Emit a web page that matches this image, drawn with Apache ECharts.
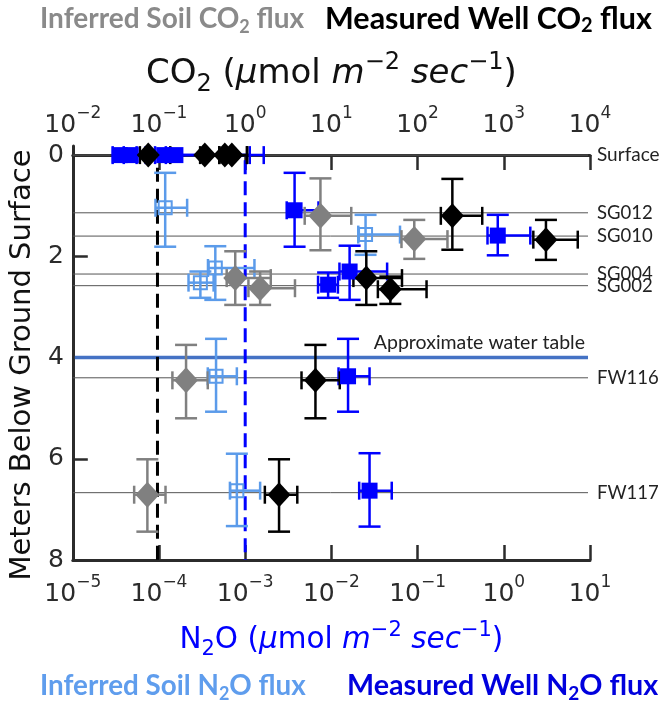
<!DOCTYPE html>
<html><head><meta charset="utf-8">
<script src="https://cdn.jsdelivr.net/npm/echarts@6/dist/echarts.min.js"></script>
<style>html,body{margin:0;padding:0;background:#fff}#c{width:661px;height:702px}</style>
</head><body><div id="c"></div>
<script>
// ---------- axis ticks ----------
const co2Range = [1e-2, 1e4];
const n2oRange = [1e-5, 1e1];
const depthRange = [-0.18, 8];
const depthTicks = [0, 2, 4, 6, 8];

// ---------- reference depths ----------
const refNames = ['Surface', 'SG012', 'SG010', 'SG004', 'SG002', 'FW116', 'FW117'];
const refDepths = [0, 1.14, 1.6, 2.35, 2.58, 4.4, 6.67];
const waterTableDepth = 4.0;
const soilDetectLimitN2O = 9.6e-5;   // black dashed
const wellDetectLimitN2O = 1e-3;     // blue dashed

// ---------- Inferred Soil CO2 flux (grey diamonds, top axis) ----------
const soilCO2Flux     = [7.46, 91.5, 0.766, 1.49, 0.206, 0.0733];
const soilCO2Depth    = [1.2, 1.66, 2.43, 2.63, 4.45, 6.71];
const soilCO2FluxLow  = [4.9, 65, 0.61, 1.09, 0.143, 0.0515];
const soilCO2FluxHigh = [17, 222, 1.98, 3.78, 0.368, 0.119];
const soilCO2DepthLow = [0.46, 1.28, 1.9, 2.3, 3.75, 6.01];
const soilCO2DepthHigh= [1.88, 2.05, 2.96, 2.96, 5.2, 7.44];

// ---------- Measured Well CO2 flux (black diamonds, top axis) ----------
const wellCO2Flux     = [0.075, 0.34, 0.58, 0.70, 253, 3083, 25.4, 48.3, 6.53, 2.47];
const wellCO2Depth    = [0, 0, 0, 0, 1.2, 1.67, 2.43, 2.65, 4.45, 6.71];
const wellCO2FluxLow  = [0.06, 0.3, 0.5, 0.6, 186, 2200, 18, 34.6, 4.5, 1.69];
const wellCO2FluxHigh = [0.135, 0.5, 1.05, 1.05, 562, 7210, 65.9, 127, 12.5, 4.02];
const wellCO2DepthLow = [0, 0, 0, 0, 0.47, 1.28, 1.9, 2.4, 3.75, 6.01];
const wellCO2DepthHigh= [0, 0, 0, 0, 1.87, 2.07, 2.96, 2.94, 5.2, 7.44];

// ---------- Inferred Soil N2O flux (light blue open squares, bottom axis) ----------
const soilN2OFlux     = [1.18e-4, 0.0249, 4.5e-4, 3.02e-4, 4.59e-4, 8.0e-4];
const soilN2ODepth    = [1.04, 1.57, 2.23, 2.52, 4.37, 6.63];
const soilN2OFluxLow  = [9.1e-5, 0.0205, 3.7e-4, 2.2e-4, 3.68e-4, 6.65e-4];
const soilN2OFluxHigh = [2.12e-4, 0.0625, 1.28e-3, 4.3e-4, 8.0e-4, 1.49e-3];
const soilN2ODepthLow = [0.35, 1.18, 1.8, 2.3, 3.63, 5.9];
const soilN2ODepthHigh= [1.81, 1.97, 2.86, 2.82, 5.07, 7.33];

// ---------- Measured Well N2O flux (blue squares, bottom axis) ----------
const wellN2OFlux     = [3.5e-5, 4.7e-5, 1.15e-4, 1.55e-4, 3.74e-3, 0.851, 0.01626, 9.16e-3, 0.0156, 0.0277];
const wellN2ODepth    = [0, 0, 0, 0, 1.09, 1.59, 2.30, 2.56, 4.37, 6.63];
const wellN2OFluxLow  = [2.9e-5, 3.9e-5, 9e-5, 1.2e-4, 3.03e-3, 0.647, 0.0124, 7.0e-3, 0.0121, 0.021];
const wellN2OFluxHigh = [5.5e-5, 7e-5, 1.13e-3, 1.64e-3, 7.08e-3, 2.03, 0.0443, 0.0119, 0.0277, 0.0501];
const wellN2ODepthLow = [0, 0, 0, 0, 0.35, 1.18, 1.79, 2.32, 3.63, 5.89];
const wellN2ODepthHigh= [0, 0, 0, 0, 1.81, 1.98, 2.86, 2.82, 5.07, 7.34];

// ---------- styles ----------
const AX = 'DejaVu Sans';
const CAL = 'Lato';
const GREY = '#808080', BLACK = '#000000', LBLUE = '#5B9BEA', BLUE = '#0000FF';
const AXCOL = '#2b2b2b';

function rows(f, d, fl, fh, dl, dh) {
  return f.map((v, i) => [v, d[i], fl[i], fh[i], dl[i], dh[i]]);
}

function powLabel(v) {
  const e = Math.round(Math.log10(v));
  return '{b|10}{s|' + (e < 0 ? '\u2212' + (-e) : e) + '}';
}
const tickRich = {
  b: { fontSize: 25, fontFamily: AX, color: AXCOL, lineHeight: 40 },
  s: { fontSize: 17, fontFamily: AX, color: AXCOL, lineHeight: 17, verticalAlign: 'top' }
};
function nameRich(col, fs) {
  const ss = Math.round(fs * 0.7);
  return {
    n: { fontSize: fs, fontFamily: AX, color: col, lineHeight: fs * 1.35 },
    sub: { fontSize: ss, fontFamily: AX, color: col, lineHeight: ss, verticalAlign: 'bottom' },
    i: { fontSize: fs, fontFamily: AX, fontStyle: 'italic', color: col, lineHeight: fs * 1.35 },
    sup: { fontSize: ss, fontFamily: AX, color: col, lineHeight: ss, verticalAlign: 'top' }
  };
}
const nameText = (sp) => '{n|' + sp + '}{sub|2}{n|' + (sp === 'CO' ? '' : 'O') + ' (}{i|\u03bc}{n|mol }{i|m}{sup|\u22122}{i| sec}{sup|\u22121}{n|)}';

function axisCommon(range, pos, margin) {
  return {
    type: 'log', logBase: 10, min: range[0], max: range[1], position: pos,
    axisLine: { show: true, lineStyle: { color: AXCOL, width: 3 } },
    axisTick: { show: true, inside: true, length: 15, lineStyle: { color: AXCOL, width: 2.5 } },
    minorTick: { show: false },
    splitLine: { show: false },
    axisLabel: { formatter: powLabel, rich: tickRich, margin: margin, showMinLabel: true, showMaxLabel: true, interval: 0 },
    nameLocation: 'middle'
  };
}

function errorSeries(name, data, xi, color) {
  return {
    type: 'custom', name: name + ' err', xAxisIndex: xi, yAxisIndex: 0, z: 3,
    encode: { x: 0, y: 1 }, silent: true,
    data: data,
    renderItem: function (params, api) {
      const x = api.value(0), y = api.value(1);
      const xl = api.value(2), xh = api.value(3), yl = api.value(4), yh = api.value(5);
      const pL = api.coord([xl, y]), pH = api.coord([xh, y]);
      const pT = api.coord([x, yl]), pB = api.coord([x, yh]);
      const st = { stroke: color, lineWidth: 2.5 };
      const ch = 9, cw = 11;
      const els = [
        { type: 'line', shape: { x1: pL[0], y1: pL[1], x2: pH[0], y2: pH[1] }, style: st },
        { type: 'line', shape: { x1: pL[0], y1: pL[1] - ch, x2: pL[0], y2: pL[1] + ch }, style: st },
        { type: 'line', shape: { x1: pH[0], y1: pH[1] - ch, x2: pH[0], y2: pH[1] + ch }, style: st }
      ];
      if (yh > yl) {
        els.push(
          { type: 'line', shape: { x1: pT[0], y1: pT[1], x2: pB[0], y2: pB[1] }, style: st },
          { type: 'line', shape: { x1: pT[0] - cw, y1: pT[1], x2: pT[0] + cw, y2: pT[1] }, style: st },
          { type: 'line', shape: { x1: pB[0] - cw, y1: pB[1], x2: pB[0] + cw, y2: pB[1] }, style: st }
        );
      }
      return { type: 'group', children: els };
    }
  };
}
function markerSeries(name, data, xi, symbol, size, itemStyle) {
  return {
    type: 'scatter', name: name, xAxisIndex: xi, yAxisIndex: 0, z: 4,
    symbol: symbol, symbolSize: size, itemStyle: Object.assign({ opacity: 1 }, itemStyle),
    data: data.map(r => [r[0], r[1]]), silent: true
  };
}

const soilCO2 = rows(soilCO2Flux, soilCO2Depth, soilCO2FluxLow, soilCO2FluxHigh, soilCO2DepthLow, soilCO2DepthHigh);
const wellCO2 = rows(wellCO2Flux, wellCO2Depth, wellCO2FluxLow, wellCO2FluxHigh, wellCO2DepthLow, wellCO2DepthHigh);
const soilN2O = rows(soilN2OFlux, soilN2ODepth, soilN2OFluxLow, soilN2OFluxHigh, soilN2ODepthLow, soilN2ODepthHigh);
const wellN2O = rows(wellN2OFlux, wellN2ODepth, wellN2OFluxLow, wellN2OFluxHigh, wellN2ODepthLow, wellN2ODepthHigh);

const chart = echarts.init(document.getElementById('c'), null, { renderer: 'canvas' });

const legendRich = (c, fs) => ({
  a: { fontSize: fs, fontFamily: CAL, fontWeight: 'bold', color: c, lineHeight: 34 },
  sub: { fontSize: Math.round(fs * 0.65), fontFamily: CAL, fontWeight: 'bold', color: c, lineHeight: 14, verticalAlign: 'bottom' }
});

const option = {
  animation: false,
  backgroundColor: '#fff',
  title: [
    { text: '{a|Inferred Soil CO}{sub|2}{a| flux}', left: 40, top: 2, padding: 0, textStyle: { rich: legendRich('#8a8a8a', 28) } },
    { text: '{a|Measured Well CO}{sub|2}{a| flux}', left: 325, top: 2, padding: 0, textStyle: { rich: legendRich('#000', 30.5) } },
    { text: '{a|Inferred Soil N}{sub|2}{a|O flux}', left: 40, top: 669, padding: 0, textStyle: { rich: legendRich('#5f9ded', 27.8) } },
    { text: '{a|Measured Well N}{sub|2}{a|O flux}', left: 347, top: 669, padding: 0, textStyle: { rich: legendRich('#0000dd', 28.7) } }
  ],
  grid: { left: 70, top: 146, width: 520, height: 414, containLabel: false },
  xAxis: [
    Object.assign(axisCommon(co2Range, 'top', 1), {
      name: nameText('CO'), nameGap: 49,
      nameTextStyle: { rich: nameRich('#111', 34) }
    }),
    Object.assign(axisCommon(n2oRange, 'bottom', 14), {
      name: nameText('N'), nameGap: 60,
      nameTextStyle: { rich: nameRich('#0000FF', 29.5), padding: [0, 0, 0, 20] }
    })
  ],
  yAxis: [{
    type: 'value', inverse: true, min: depthRange[0], max: depthRange[1],
    axisLine: { show: true, lineStyle: { color: AXCOL, width: 3 } },
    axisTick: { show: true, inside: true, length: 15, customValues: depthTicks, lineStyle: { color: AXCOL, width: 2.5 } },
    axisLabel: { customValues: depthTicks, fontSize: 25, fontFamily: AX, color: AXCOL, margin: 9 },
    splitLine: { show: false },
    name: 'Meters Below Ground Surface', nameLocation: 'middle', nameGap: 33, nameRotate: 90,
    nameTextStyle: { fontSize: 29, fontFamily: AX, color: '#111', padding: [0, 24, 0, 0] }
  }],
  series: [
    {
      type: 'custom', name: 'refs', xAxisIndex: 1, yAxisIndex: 0, z: 1, silent: true,
      encode: { y: 0 },
      data: refDepths.map((d, i) => [d, i]),
      renderItem: function (params, api) {
        const d = api.value(0), idx = api.value(1);
        const a = api.coord([n2oRange[0], d]), b = api.coord([n2oRange[1], d]);
        return {
          type: 'group', children: [
            { type: 'line', shape: { x1: a[0], y1: a[1], x2: b[0] - 2, y2: b[1] }, style: { stroke: '#555', lineWidth: 1 } },
            { type: 'text', x: b[0] + 7, y: b[1], style: { text: refNames[idx], fill: '#222', font: (idx === 0 ? '19px ' : '18.5px ') + CAL, align: 'left', verticalAlign: 'middle' } }
          ]
        };
      }
    },
    {
      type: 'custom', name: 'water', xAxisIndex: 1, yAxisIndex: 0, z: 2, silent: true,
      encode: { y: 0 },
      data: [[waterTableDepth]],
      renderItem: function (params, api) {
        const d = api.value(0);
        const a = api.coord([n2oRange[0], d]), b = api.coord([n2oRange[1], d]);
        return {
          type: 'group', children: [
            { type: 'line', shape: { x1: a[0] + 2, y1: a[1], x2: b[0] - 2, y2: b[1] }, style: { stroke: '#4472C4', lineWidth: 3.5 } },
            { type: 'text', x: b[0] - 5, y: b[1] - 5, style: { text: 'Approximate water table', fill: '#222', font: '19.5px ' + CAL, align: 'right', verticalAlign: 'bottom' } }
          ]
        };
      }
    },
    {
      type: 'custom', name: 'limits', xAxisIndex: 1, yAxisIndex: 0, z: 2, silent: true,
      encode: { x: 0 },
      data: [[soilDetectLimitN2O, 0.25], [wellDetectLimitN2O, 0.1]],
      renderItem: function (params, api) {
        const x = api.value(0), top = api.value(1);
        const a = api.coord([x, top]), b = api.coord([x, depthRange[1]]);
        const col = params.dataIndex === 0 ? BLACK : BLUE;
        return { type: 'line', shape: { x1: a[0], y1: a[1], x2: b[0], y2: b[1] }, style: { stroke: col, lineWidth: 3, lineDash: [14, 7] } };
      }
    },
    errorSeries('soilN2O', soilN2O, 1, LBLUE),
    markerSeries('Inferred Soil N2O flux', soilN2O, 1, 'rect', 13, { color: 'rgba(255,255,255,0)', borderColor: LBLUE, borderWidth: 2 }),
    errorSeries('wellN2O', wellN2O, 1, BLUE),
    markerSeries('Measured Well N2O flux', wellN2O, 1, 'rect', 16, { color: BLUE }),
    errorSeries('soilCO2', soilCO2, 0, GREY),
    markerSeries('Inferred Soil CO2 flux', soilCO2, 0, 'diamond', [24, 26], { color: GREY }),
    errorSeries('wellCO2', wellCO2, 0, BLACK),
    markerSeries('Measured Well CO2 flux', wellCO2, 0, 'diamond', [23, 25], { color: BLACK })
  ]
};
chart.setOption(option);
</script>
</body></html>
